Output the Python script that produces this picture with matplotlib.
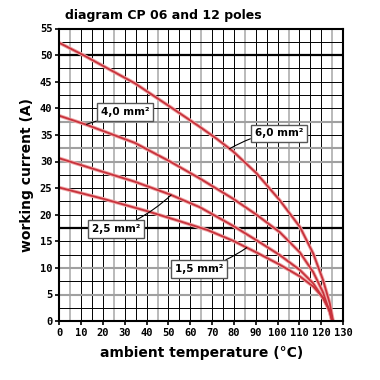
import matplotlib.pyplot as plt

# values
temp_60 = [0, 11, 34.6, 50.7, 64.4, 72, 79.6, 90.3, 101, 110.2, 116.3, 120.8, 123.9, 125.4]
amps_60 = [52.3, 50.0, 44.7, 40.3, 36.5, 34.3, 31.9, 27.8, 22.7, 17.7, 12.7, 7.7, 3.3, 0]

temp_40 = [0, 12.5, 34.6, 50.7, 64.4, 79.6, 90.3, 101, 110.2, 116.3, 120.8, 123.9, 124.9]
amps_40 = [38.6, 36.9, 33.5, 30.0, 26.8, 23.0, 20.0, 16.7, 12.9, 9.2, 5.4, 1.6, 0]

temp_25 = [0, 34.6, 50.7, 64.4, 79.6, 90.3, 101, 110.2, 116.3, 120.8, 123.9, 125]
amps_25 = [30.6, 26.2, 23.8, 21.4, 17.9, 15.2, 12.4, 9.6, 7.1, 4.3, 1.8, 0]

temp_15 = [0, 20, 40, 55, 68, 79.6, 90.3, 101, 110.2, 116.3, 120.8, 123.9, 125.3]
amps_15 = [25.1, 23.0, 20.7, 18.8, 17.1, 15.1, 12.9, 10.6, 8.4, 6.5, 4.4, 2.0, 0]

x_ticks = list(range(0, 131, 10))
y_ticks = list(range(0, 56, 5))

red = '#c8323c'

fig = plt.figure(figsize=(3.8, 3.8), dpi=100)
ax = fig.add_axes([0.156, 0.155, 0.747, 0.77])

# grid: thin black every 5 / 2.5, some heavier gray and black lines
for xv in range(5, 130, 5):
    if xv in (5, 25, 45, 65, 85, 105, 125):
        ax.axvline(xv, color='#b4b4b4', lw=1.3, zorder=1)
    else:
        ax.axvline(xv, color='black', lw=0.7, zorder=1)
for i in range(1, 22):
    yv = i * 2.5
    if yv in (50, 17.5):
        ax.axhline(yv, color='black', lw=1.6, zorder=1)
    elif yv in (37.5, 32.5, 30, 10, 5):
        ax.axhline(yv, color='#a0a0a0', lw=1.5, zorder=1)
    else:
        ax.axhline(yv, color='black', lw=0.7, zorder=1)

for t, a in [(temp_60, amps_60), (temp_40, amps_40), (temp_25, amps_25), (temp_15, amps_15)]:
    ax.plot(t, a, color='#f0a8a8', lw=2.6, zorder=2, solid_joinstyle='round')
    ax.plot(t, a, color=red, lw=1.3, zorder=3, solid_joinstyle='round')

box = dict(boxstyle='square,pad=0.35', fc='white', ec='#555555', lw=1.0)
arrow = dict(arrowstyle='-', color='black', lw=0.8, shrinkA=0, shrinkB=0)
lab_font = dict(fontsize=7.5, fontweight='bold', family='DejaVu Sans', zorder=5)

ax.annotate('4,0 mm²', xy=(12.5, 37.0), xytext=(30, 39.3), ha='center', va='center',
            bbox=box, arrowprops=arrow, **lab_font)
ax.annotate('6,0 mm²', xy=(78, 32.4), xytext=(100.5, 35.3), ha='center', va='center',
            bbox=box, arrowprops=dict(arrow, connectionstyle='angle3,angleA=0,angleB=30'), **lab_font)
ax.annotate('2,5 mm²', xy=(51.2, 23.7), xytext=(26, 17.3), ha='center', va='center',
            bbox=box, arrowprops=dict(arrow, connectionstyle='arc3,rad=0.1'), **lab_font)
ax.annotate('1,5 mm²', xy=(85.8, 13.8), xytext=(64, 9.8), ha='center', va='center',
            bbox=box, arrowprops=dict(arrow, connectionstyle='arc3,rad=0.1'), **lab_font)

ax.set_xlim(0, 130)
ax.set_ylim(0, 55)
ax.set_xticks(x_ticks)
ax.set_yticks(y_ticks)
ax.set_xticklabels([str(v) for v in x_ticks], family='DejaVu Sans Mono', fontweight='bold', fontsize=7.5)
ax.set_yticklabels([str(v) for v in y_ticks], family='DejaVu Sans Mono', fontweight='bold', fontsize=7.5)
ax.tick_params(direction='out', length=3, width=1.2, pad=2)
for s in ax.spines.values():
    s.set_linewidth(1.5)
    s.set_zorder(6)

ax.set_xlabel('ambient temperature (°C)', fontsize=10, fontweight='bold', labelpad=6)
ax.set_ylabel('working current (A)', fontsize=10, fontweight='bold', labelpad=4)
fig.text(0.171, 0.96, 'diagram CP 06 and 12 poles', fontsize=9, fontweight='bold', va='center')

plt.savefig('out.png', dpi=100)
